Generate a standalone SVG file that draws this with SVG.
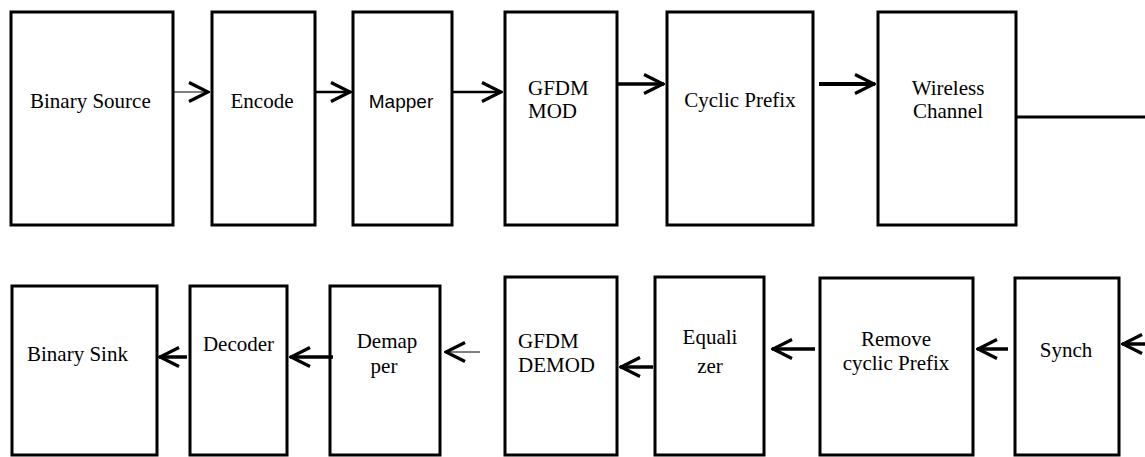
<svg xmlns="http://www.w3.org/2000/svg" width="1145" height="457" viewBox="0 0 1145 457">
<style>
.box{fill:#fff;stroke:#000;stroke-width:3}
.t{font-family:'Liberation Serif','Times New Roman','DejaVu Serif',serif;font-size:21px;fill:#000}
.s{font-family:'Liberation Sans',Arial,sans-serif;font-size:19px;fill:#000}
.c{text-anchor:middle}
.ln{fill:none;stroke:#000}
</style>
<defs>
<marker id="ah" viewBox="0 0 22 22" refX="21" refY="11" markerWidth="22" markerHeight="22" markerUnits="userSpaceOnUse" orient="auto">
<path d="M1,1.5 L20,11 L1,20.5" fill="none" stroke="#000" stroke-width="3.2"/>
</marker>
</defs>
<rect width="1145" height="457" fill="#fff"/>
<g id="binary-source"><rect class="box" x="11" y="12" width="162" height="213"/><text class="t" font-family="Liberation Serif, serif" x="30" y="108">Binary Source</text></g>
<g id="encode"><rect class="box" x="212" y="12" width="103" height="213"/><text class="t c" font-family="Liberation Serif, serif" x="262" y="108">Encode</text></g>
<g id="mapper"><rect class="box" x="353" y="12" width="99" height="213"/><text class="s c" x="401" y="108">Mapper</text></g>
<g id="gfdm-mod"><rect class="box" x="505" y="12" width="112" height="213"/><text class="t" font-family="Liberation Serif, serif" x="528" y="95">GFDM</text><text class="t" font-family="Liberation Serif, serif" x="528" y="118">MOD</text></g>
<g id="cyclic-prefix"><rect class="box" x="667" y="12" width="146" height="213"/><text class="t c" font-family="Liberation Serif, serif" x="740" y="107">Cyclic Prefix</text></g>
<g id="wireless-channel"><rect class="box" x="878" y="12" width="138" height="213"/><text class="t c" font-family="Liberation Serif, serif" x="948" y="95">Wireless</text><text class="t c" font-family="Liberation Serif, serif" x="948" y="118">Channel</text></g>

<g id="binary-sink"><rect class="box" x="12" y="286" width="145" height="169"/><text class="t" font-family="Liberation Serif, serif" x="27" y="361">Binary Sink</text></g>
<g id="decoder"><rect class="box" x="190" y="286" width="97" height="169"/><text class="t c" font-family="Liberation Serif, serif" x="238.5" y="351">Decoder</text></g>
<g id="demapper"><rect class="box" x="330" y="286" width="110" height="169"/><text class="t c" font-family="Liberation Serif, serif" x="387" y="348">Demap</text><text class="t c" font-family="Liberation Serif, serif" x="384" y="373">per</text></g>
<g id="gfdm-demod"><rect class="box" x="505" y="277" width="112" height="178"/><text class="t" font-family="Liberation Serif, serif" x="518" y="348">GFDM</text><text class="t" font-family="Liberation Serif, serif" x="518" y="372">DEMOD</text></g>
<g id="equalizer"><rect class="box" x="655" y="277" width="109" height="178"/><text class="t c" font-family="Liberation Serif, serif" x="710" y="344">Equali</text><text class="t c" font-family="Liberation Serif, serif" x="710" y="373">zer</text></g>
<g id="remove-cp"><rect class="box" x="820" y="278" width="153" height="177"/><text class="t c" font-family="Liberation Serif, serif" x="896" y="346">Remove</text><text class="t c" font-family="Liberation Serif, serif" x="896" y="370">cyclic Prefix</text></g>
<g id="synch"><rect class="box" x="1015" y="278" width="104" height="177"/><text class="t c" font-family="Liberation Serif, serif" x="1066" y="357">Synch</text></g>

<g id="connectors">
<line class="ln" x1="173" y1="92" x2="209" y2="92" stroke-width="1" marker-end="url(#ah)"/>
<line class="ln" x1="315" y1="92" x2="351" y2="92" stroke-width="2.5" marker-end="url(#ah)"/>
<line class="ln" x1="452" y1="92" x2="502" y2="92" stroke-width="2.5" marker-end="url(#ah)"/>
<line class="ln" x1="617" y1="84" x2="664" y2="84" stroke-width="3.5" marker-end="url(#ah)"/>
<line class="ln" x1="819" y1="84" x2="875" y2="84" stroke-width="4" marker-end="url(#ah)"/>
<line class="ln" x1="1016" y1="117" x2="1145" y2="117" stroke-width="3"/>
<line class="ln" x1="1145" y1="344" x2="1122" y2="344" stroke-width="3.5" marker-end="url(#ah)"/>
<line class="ln" x1="1008" y1="349" x2="977" y2="349" stroke-width="3.5" marker-end="url(#ah)"/>
<line class="ln" x1="815" y1="349" x2="772" y2="349" stroke-width="3.5" marker-end="url(#ah)"/>
<line class="ln" x1="653" y1="367" x2="620" y2="367" stroke-width="3.5" marker-end="url(#ah)"/>
<line class="ln" x1="480" y1="352" x2="445" y2="352" stroke-width="1" marker-end="url(#ah)"/>
<line class="ln" x1="333" y1="357" x2="290" y2="357" stroke-width="3.5" marker-end="url(#ah)"/>
<line class="ln" x1="187" y1="357" x2="159" y2="357" stroke-width="3.5" marker-end="url(#ah)"/>
</g>
</svg>
